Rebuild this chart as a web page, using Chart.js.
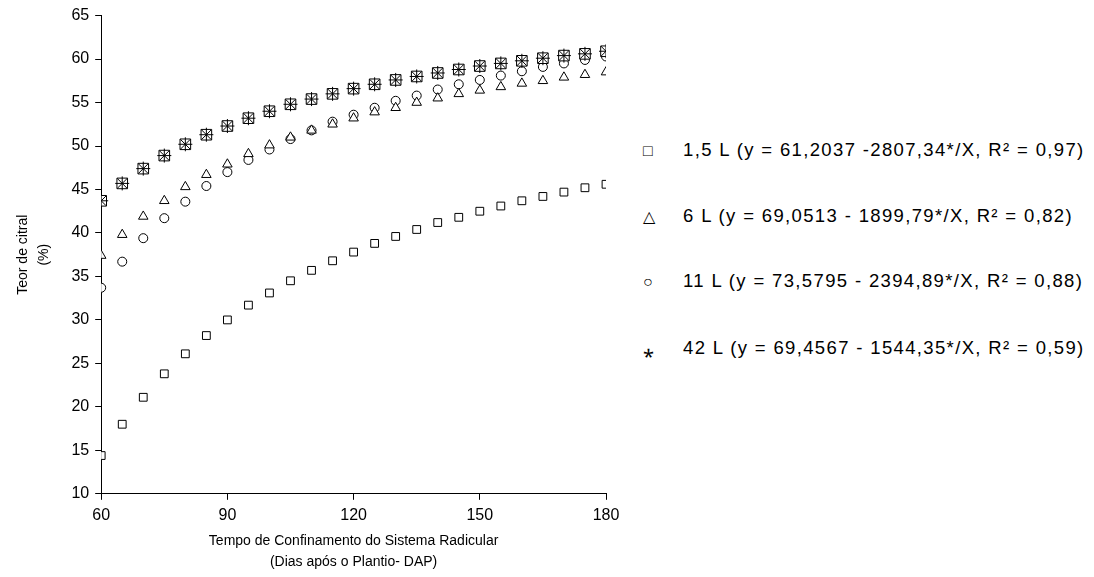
<!DOCTYPE html>
<html><head><meta charset="utf-8">
<script src="https://cdn.jsdelivr.net/npm/chart.js@4.4.0/dist/chart.umd.min.js"></script>
<style>
body{margin:0;background:#fff;font-family:"Liberation Sans",Arial,sans-serif;}
#wrap{position:relative;width:1094px;height:577px;}
#c{position:absolute;left:0;top:0;}
.leg{position:absolute;left:643px;font-size:18.5px;letter-spacing:1.35px;color:#000;white-space:nowrap;line-height:20px;}
.leg span{display:inline-block;width:40px;font-size:16px;}
</style></head><body>
<div id="wrap">
<canvas id="c" width="630" height="577"></canvas>
<div class="leg" style="top:140px"><span>□</span>1,5 L (y = 61,2037 -2807,34*/X, R² = 0,97)</div>
<div class="leg" style="top:206px"><span>△</span>6 L (y = 69,0513 - 1899,79*/X, R² = 0,82)</div>
<div class="leg" style="top:271px"><span>○</span>11 L (y = 73,5795 - 2394,89*/X, R² = 0,88)</div>
<div class="leg" style="top:337px"><span style="font-size:20px">⁎</span>42 L (y = 69,4567 - 1544,35*/X, R² = 0,59)</div>
</div>
<script>
var days = [60,65,70,75,80,85,90,95,100,105,110,115,120,125,130,135,140,145,150,155,160,165,170,175,180];
var l1_5 = [14.4,18.0,21.1,23.8,26.1,28.2,30.0,31.7,33.1,34.5,35.7,36.8,37.8,38.8,39.6,40.4,41.2,41.8,42.5,43.1,43.7,44.2,44.7,45.2,45.6];
var l6 = [37.4,39.8,41.9,43.7,45.3,46.7,47.9,49.1,50.1,51.0,51.8,52.5,53.2,53.9,54.4,55.0,55.5,56.0,56.4,56.8,57.2,57.5,57.9,58.2,58.5];
var l11 = [33.7,36.7,39.4,41.7,43.6,45.4,47.0,48.4,49.6,50.8,51.8,52.8,53.6,54.4,55.2,55.8,56.5,57.1,57.6,58.1,58.6,59.1,59.5,59.9,60.3];
var l42 = [43.7,45.7,47.4,48.9,50.2,51.3,52.3,53.2,54.0,54.8,55.4,56.0,56.6,57.1,57.6,58.0,58.4,58.8,59.2,59.5,59.8,60.1,60.4,60.6,60.9];

function pts(v){ return days.map(function(d,i){ return {x:d, y:v[i]}; }); }
function ds(v, style, r){
  return {data: pts(v), pointStyle: style, pointRadius: r, borderColor:'#000', backgroundColor:'#fff', pointBorderWidth:1, showLine:false};
}
var ctx = document.getElementById('c');
new Chart(ctx, {
  type: 'scatter',
  data: {datasets: [
    ds(l42,'star',7), ds(l42,'rect',7.5),
    ds(l1_5,'rect',5.5), ds(l6,'triangle',5.5), ds(l11,'circle',4.5)
  ]},
  options: {
    responsive:false, animation:false, devicePixelRatio:1,
    layout:{padding:{top:12,right:24,bottom:4,left:8}},
    plugins:{legend:{display:false}, tooltip:{enabled:false}},
    scales:{
      x:{type:'linear', min:60, max:180,
        ticks:{stepSize:30, color:'#000', font:{size:16, family:'Liberation Sans'}, padding:6},
        grid:{drawOnChartArea:false, color:'#000', tickLength:6},
        border:{color:'#000'},
        title:{display:true, text:['Tempo de Confinamento do Sistema Radicular','(Dias após o Plantio- DAP)'], color:'#000', font:{size:14, family:'Liberation Sans', lineHeight:1.5}, padding:{top:0,bottom:0}}
      },
      y:{min:10, max:65,
        ticks:{stepSize:5, color:'#000', font:{size:16, family:'Liberation Sans'}, padding:6},
        grid:{drawOnChartArea:false, color:'#000', tickLength:6},
        border:{color:'#000'},
        title:{display:true, text:['Teor de citral','(%)'], color:'#000', font:{size:14, family:'Liberation Sans', lineHeight:1.55}, padding:{bottom:10}}
      }
    }
  }
});
</script>
</body></html>
